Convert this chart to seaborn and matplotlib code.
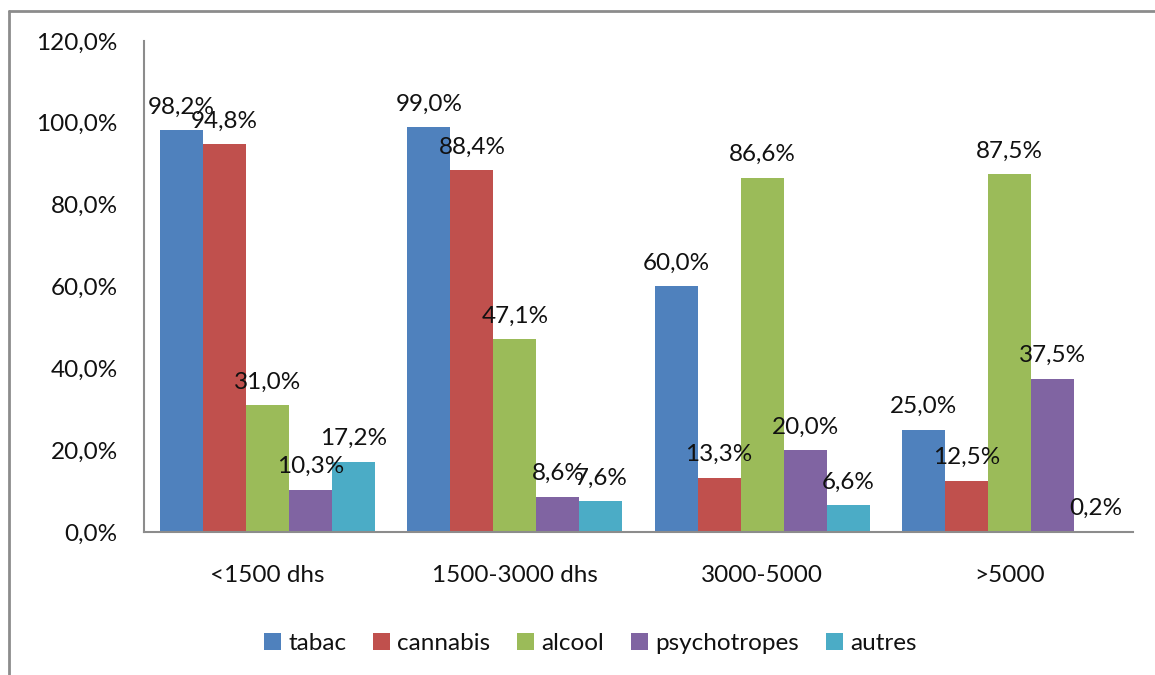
import matplotlib
matplotlib.use("Agg")
import matplotlib.pyplot as plt
from matplotlib.lines import Line2D
from matplotlib.ticker import FuncFormatter
import seaborn as sns
import pandas as pd

# Income brackets and consumption rates (%) per substance
categories = ["<1500 dhs", "1500-3000 dhs", "3000-5000", ">5000"]
series = ["tabac", "cannabis", "alcool", "psychotropes", "autres"]
tabac = [98.2, 99.0, 60.0, 25.0]
cannabis = [94.8, 88.4, 13.3, 12.5]
alcool = [31.0, 47.1, 86.6, 87.5]
psychotropes = [10.3, 8.6, 20.0, 37.5]
autres = [17.2, 7.6, 6.6, 0.2]
y_ticks = [0, 20, 40, 60, 80, 100, 120]

colors = ["#4F81BD", "#C0504D", "#9BBB59", "#8064A2", "#4BACC6"]

rows = []
for name, vals in zip(series, [tabac, cannabis, alcool, psychotropes, autres]):
    for cat, v in zip(categories, vals):
        rows.append({"revenu": cat, "substance": name, "valeur": v})
df = pd.DataFrame(rows)

sns.set_theme(style="white")
plt.rcParams["font.family"] = ["Lato", "DejaVu Sans"]
FS = 17.5

fig = plt.figure(figsize=(11.55, 6.75), dpi=100)
ax = fig.add_axes([0.1247, 0.2119, 0.8563, 0.7274])

sns.barplot(data=df, x="revenu", y="valeur", hue="substance",
            order=categories, hue_order=series, palette=colors,
            width=0.87, linewidth=0, saturation=1, ax=ax, errorbar=None)

fmt = lambda v: f"{v:.1f}%".replace(".", ",")
for cont in ax.containers:
    ax.bar_label(cont, labels=[fmt(b.get_height()) for b in cont],
                 padding=9, fontsize=FS, color="#111111")

ax.set_ylim(0, 120)
ax.set_yticks(y_ticks)
ax.yaxis.set_major_formatter(FuncFormatter(lambda v, p: fmt(v)))
ax.set_xlim(-0.5, len(categories) - 0.5)
ax.tick_params(axis="y", length=0, pad=19, labelsize=FS, labelcolor="#111111")
ax.tick_params(axis="x", length=0, pad=24, labelsize=FS, labelcolor="#111111")
ax.set_xlabel("")
ax.set_ylabel("")
for side in ["top", "right"]:
    ax.spines[side].set_visible(False)
for side in ["left", "bottom"]:
    ax.spines[side].set_color("#8C8C8C")
    ax.spines[side].set_linewidth(1.5)

ax.legend(loc="center", bbox_to_anchor=(0.511, 0.047), bbox_transform=fig.transFigure,
          ncol=5, frameon=False, fontsize=FS, handlelength=0.7, handleheight=0.7,
          handletextpad=0.3, columnspacing=1.1, labelcolor="#111111")

# Outer chart frame (top and left edges)
fig.add_artist(Line2D([9 / 1155, 1.0], [1 - 11 / 675, 1 - 11 / 675],
                      transform=fig.transFigure, color="#8C8C8C", lw=2))
fig.add_artist(Line2D([9 / 1155, 9 / 1155], [0.0, 1 - 11 / 675],
                      transform=fig.transFigure, color="#8C8C8C", lw=2))

fig.savefig("out.png", dpi=100)
